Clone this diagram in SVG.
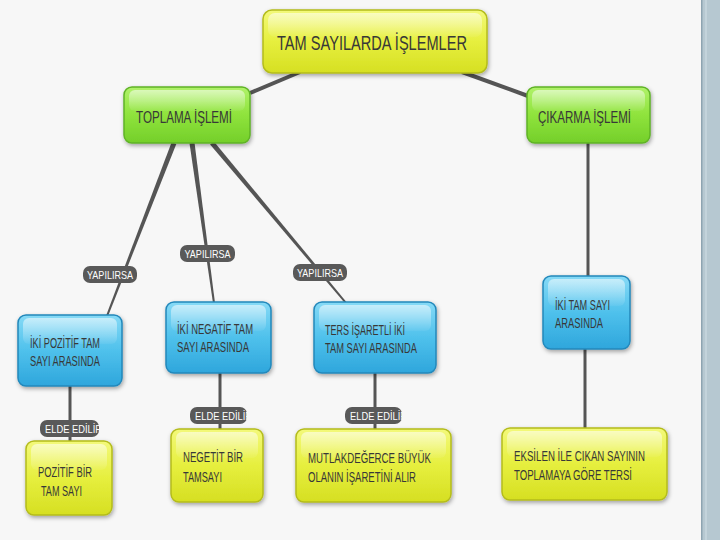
<svg xmlns="http://www.w3.org/2000/svg" width="720" height="540" viewBox="0 0 720 540">
<defs>
<linearGradient id="gY" x1="0" y1="0" x2="0" y2="1"><stop offset="0" stop-color="#f3f97a"/><stop offset="0.5" stop-color="#e6ef3e"/><stop offset="1" stop-color="#d6df22"/></linearGradient>
<linearGradient id="gG" x1="0" y1="0" x2="0" y2="1"><stop offset="0" stop-color="#b0f26a"/><stop offset="0.5" stop-color="#8fe33c"/><stop offset="1" stop-color="#74cf2a"/></linearGradient>
<linearGradient id="gB" x1="0" y1="0" x2="0" y2="1"><stop offset="0" stop-color="#86daf6"/><stop offset="0.5" stop-color="#4fc1ec"/><stop offset="1" stop-color="#2ea6dc"/></linearGradient>
<linearGradient id="gH" x1="0" y1="0" x2="0" y2="1"><stop offset="0" stop-color="#fff" stop-opacity="0.55"/><stop offset="1" stop-color="#fff" stop-opacity="0.05"/></linearGradient>
<filter id="sh" x="-20%" y="-20%" width="140%" height="150%"><feDropShadow dx="1" dy="2" stdDeviation="2" flood-color="#000" flood-opacity="0.35"/></filter>
<clipPath id="c1"><rect x="40" y="420" width="59" height="17"/></clipPath>
<clipPath id="c2"><rect x="190" y="407" width="57" height="17"/></clipPath>
<clipPath id="c3"><rect x="345" y="407" width="57" height="17"/></clipPath>
</defs>
<style>
.t{font-family:"Liberation Sans","Arial",sans-serif;fill:#383838;}
.lb{font-family:"Liberation Sans","Arial",sans-serif;fill:#fff;font-size:11.5px;}
.y{fill:url(#gY);stroke:#b4bc1c;stroke-width:1.5;filter:url(#sh);}
.g{fill:url(#gG);stroke:#5fb326;stroke-width:1.5;filter:url(#sh);}
.b{fill:url(#gB);stroke:#2388bb;stroke-width:1.5;filter:url(#sh);}
.hl{fill:url(#gH);}
.pill{fill:#595959;}
.ln{stroke:#555;fill:none;}
</style>
<rect width="720" height="540" fill="#f7f7f7"/>
<rect x="702" y="0" width="18" height="540" fill="#b6c8d1"/>
<rect x="701" y="0" width="1.5" height="540" fill="#8ea4b1"/>
<rect x="705" y="0" width="2" height="540" fill="#c3d3db"/>

<g id="connectors">
<line class="ln" x1="300" y1="72" x2="250" y2="93" stroke-width="4"/>
<line class="ln" x1="462" y1="72" x2="528" y2="96" stroke-width="4"/>
<line class="ln" x1="588" y1="143" x2="588" y2="276" stroke-width="3"/>
<polygon fill="#555" points="176.3,143.9 107.9,316.4 106.1,315.6 171.7,142.1"/>
<polygon fill="#555" points="194.5,142.7 215,302.9 213,303.1 189.5,143.3"/>
<polygon fill="#555" points="213.9,141.4 346.8,302.4 345.2,303.6 210.1,144.6"/>
<line class="ln" x1="70" y1="386" x2="70" y2="441" stroke-width="3"/>
<line class="ln" x1="220" y1="373" x2="220" y2="429" stroke-width="3"/>
<line class="ln" x1="375" y1="373" x2="375" y2="429" stroke-width="3"/>
<line class="ln" x1="585" y1="349" x2="585" y2="428" stroke-width="3"/>
<g id="lbl1"><rect class="pill" x="83" y="266" width="54" height="17" rx="7"/><text class="lb" x="110" y="278.5" text-anchor="middle" textLength="46" lengthAdjust="spacingAndGlyphs">YAPILIRSA</text></g>
<g id="lbl2"><rect class="pill" x="180" y="245" width="55" height="17" rx="7"/><text class="lb" x="207.5" y="257.5" text-anchor="middle" textLength="46" lengthAdjust="spacingAndGlyphs">YAPILIRSA</text></g>
<g id="lbl3"><rect class="pill" x="293" y="264" width="54" height="17" rx="7"/><text class="lb" x="320" y="276.5" text-anchor="middle" textLength="46" lengthAdjust="spacingAndGlyphs">YAPILIRSA</text></g>
<g id="lbl4"><rect class="pill" x="40" y="420" width="59" height="17" rx="7"/><text class="lb" x="45" y="432.5" clip-path="url(#c1)" textLength="57" lengthAdjust="spacingAndGlyphs">ELDE EDİLİR</text></g>
<g id="lbl5"><rect class="pill" x="190" y="407" width="57" height="17" rx="7"/><text class="lb" x="195" y="419.5" clip-path="url(#c2)" textLength="57" lengthAdjust="spacingAndGlyphs">ELDE EDİLİR</text></g>
<g id="lbl6"><rect class="pill" x="345" y="407" width="57" height="17" rx="7"/><text class="lb" x="350" y="419.5" clip-path="url(#c3)" textLength="57" lengthAdjust="spacingAndGlyphs">ELDE EDİLİR</text></g>
</g>

<g id="root"><rect class="y" x="263" y="10" width="224" height="63" rx="9"/><rect class="hl" x="268" y="13" width="214" height="24" rx="7"/>
<text class="t" x="277" y="50" font-size="21" textLength="190" lengthAdjust="spacingAndGlyphs">TAM SAYILARDA İŞLEMLER</text></g>

<g id="toplama"><rect class="g" x="124" y="87" width="126" height="56" rx="8"/><rect class="hl" x="129" y="90" width="116" height="21" rx="6"/>
<text class="t" x="136" y="123" font-size="17" textLength="96" lengthAdjust="spacingAndGlyphs">TOPLAMA İŞLEMİ</text></g>

<g id="cikarma"><rect class="g" x="527" y="87" width="123" height="56" rx="8"/><rect class="hl" x="532" y="90" width="113" height="21" rx="6"/>
<text class="t" x="538" y="123" font-size="17" textLength="93" lengthAdjust="spacingAndGlyphs">ÇIKARMA İŞLEMİ</text></g>

<g id="pozitif"><rect class="b" x="18" y="315" width="104" height="71" rx="8"/><rect class="hl" x="23" y="318" width="94" height="26" rx="6"/>
<text class="t" x="30" y="348" font-size="14" textLength="70" lengthAdjust="spacingAndGlyphs">İKİ POZİTİF TAM</text>
<text class="t" x="30" y="366" font-size="14" textLength="70" lengthAdjust="spacingAndGlyphs">SAYI ARASINDA</text></g>

<g id="negatif"><rect class="b" x="166" y="302" width="105" height="71" rx="8"/><rect class="hl" x="171" y="305" width="95" height="26" rx="6"/>
<text class="t" x="177" y="334" font-size="14" textLength="76" lengthAdjust="spacingAndGlyphs">İKİ NEGATİF TAM</text>
<text class="t" x="177" y="352" font-size="14" textLength="72" lengthAdjust="spacingAndGlyphs">SAYI ARASINDA</text></g>

<g id="ters"><rect class="b" x="314" y="302" width="122" height="71" rx="8"/><rect class="hl" x="319" y="305" width="112" height="26" rx="6"/>
<text class="t" x="325" y="335" font-size="14" textLength="80" lengthAdjust="spacingAndGlyphs">TERS İŞARETLİ İKİ</text>
<text class="t" x="325" y="353" font-size="14" textLength="92" lengthAdjust="spacingAndGlyphs">TAM SAYI ARASINDA</text></g>

<g id="ikitam"><rect class="b" x="543" y="276" width="87" height="73" rx="8"/><rect class="hl" x="548" y="279" width="77" height="27" rx="6"/>
<text class="t" x="555" y="310" font-size="14" textLength="55" lengthAdjust="spacingAndGlyphs">İKİ TAM SAYI</text>
<text class="t" x="555" y="328" font-size="14" textLength="48" lengthAdjust="spacingAndGlyphs">ARASINDA</text></g>

<g id="sonuc1"><rect class="y" x="26" y="441" width="86" height="74" rx="8"/><rect class="hl" x="31" y="444" width="76" height="26" rx="6"/>
<text class="t" x="38" y="477" font-size="14" textLength="54" lengthAdjust="spacingAndGlyphs">POZİTİF BİR</text>
<text class="t" x="41" y="496" font-size="14" textLength="41" lengthAdjust="spacingAndGlyphs">TAM SAYI</text></g>

<g id="sonuc2"><rect class="y" x="171" y="429" width="92" height="73" rx="8"/><rect class="hl" x="176" y="432" width="82" height="26" rx="6"/>
<text class="t" x="183" y="462" font-size="14" textLength="60" lengthAdjust="spacingAndGlyphs">NEGETİT BİR</text>
<text class="t" x="183" y="482" font-size="14" textLength="39" lengthAdjust="spacingAndGlyphs">TAMSAYI</text></g>

<g id="sonuc3"><rect class="y" x="296" y="429" width="155" height="73" rx="8"/><rect class="hl" x="301" y="432" width="145" height="26" rx="6"/>
<text class="t" x="308" y="463" font-size="14" textLength="123" lengthAdjust="spacingAndGlyphs">MUTLAKDEĞERCE BÜYÜK</text>
<text class="t" x="308" y="482" font-size="14" textLength="108" lengthAdjust="spacingAndGlyphs">OLANIN İŞARETİNİ ALIR</text></g>

<g id="sonuc4"><rect class="y" x="502" y="428" width="165" height="72" rx="8"/><rect class="hl" x="507" y="431" width="155" height="26" rx="6"/>
<text class="t" x="514" y="461" font-size="14" textLength="131" lengthAdjust="spacingAndGlyphs">EKSİLEN İLE CIKAN SAYININ</text>
<text class="t" x="514" y="480" font-size="14" textLength="118" lengthAdjust="spacingAndGlyphs">TOPLAMAYA GÖRE TERSİ</text></g>
</svg>
